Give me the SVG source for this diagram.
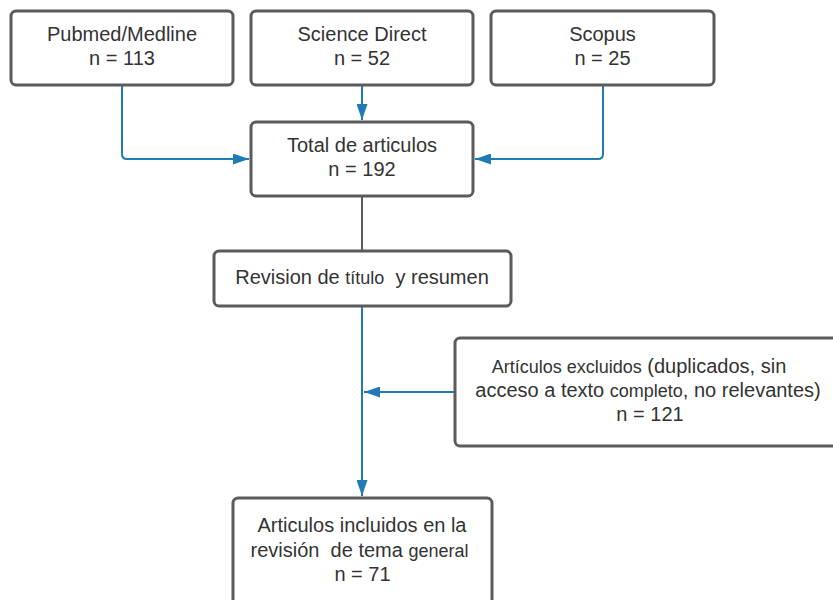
<svg xmlns="http://www.w3.org/2000/svg" width="833" height="600" viewBox="0 0 833 600">
<style>
.box{fill:#fff;stroke:#5b5b5b;stroke-width:3}
.t{font-family:"Liberation Sans",Arial,sans-serif;font-size:20px;fill:#333;text-anchor:middle;white-space:pre}
.s{font-size:18px}
.c{fill:none;stroke:#1f7ab5;stroke-width:2}
.g{fill:none;stroke:#5b5b5b;stroke-width:2}
</style>
<defs>
<marker id="ah" markerUnits="userSpaceOnUse" markerWidth="16" markerHeight="11" refX="16" refY="5.5" orient="auto">
<path d="M0,0 L16,5.5 L0,11 z" fill="#1f7ab5"/>
</marker>
</defs>
<rect width="833" height="600" fill="#fff"/>
<g id="connectors">
<path class="c" d="M122,86 V154 Q122,159 127,159 H249" marker-end="url(#ah)"/>
<path class="c" d="M362,86 V120" marker-end="url(#ah)"/>
<path class="c" d="M603,86 V154 Q603,159 598,159 H475" marker-end="url(#ah)"/>
<path class="g" d="M362,197 V251"/>
<path class="c" d="M362,307 V496" marker-end="url(#ah)"/>
<path class="c" d="M454,392 H364" marker-end="url(#ah)"/>
</g>
<g id="pubmed">
<rect class="box" x="11" y="11" width="222" height="74" rx="5"/>
<text class="t" x="122" y="40.5">Pubmed/Medline</text>
<text class="t" x="122" y="65">n = 113</text>
</g>
<g id="sciencedirect">
<rect class="box" x="251" y="11" width="222" height="74" rx="5"/>
<text class="t" x="362" y="40.5">Science Direct</text>
<text class="t" x="362" y="65">n = 52</text>
</g>
<g id="scopus">
<rect class="box" x="491" y="11" width="223" height="74" rx="5"/>
<text class="t" x="602.5" y="40.5">Scopus</text>
<text class="t" x="602.5" y="65">n = 25</text>
</g>
<g id="total">
<rect class="box" x="251" y="122" width="222" height="74" rx="5"/>
<text class="t" x="362" y="151.5">Total de articulos</text>
<text class="t" x="362" y="176">n = 192</text>
</g>
<g id="revision">
<rect class="box" x="214" y="251" width="297" height="55" rx="5"/>
<text class="t" x="362" y="284">Revision de <tspan class="s">título</tspan>  y resumen</text>
</g>
<g id="excluidos">
<rect class="box" x="455" y="338" width="390" height="108" rx="5"/>
<text class="t" x="639" y="372.5"><tspan class="s">Artículos excluidos</tspan> (duplicados, sin</text>
<text class="t" x="648" y="397">acceso a texto <tspan class="s">completo</tspan>, no relevantes)</text>
<text class="t" x="650" y="421">n = 121</text>
</g>
<g id="incluidos">
<rect class="box" x="233" y="498" width="259" height="120" rx="5"/>
<text class="t" x="362" y="531.5">Articulos incluidos en la</text>
<text class="t" x="359.5" y="556.5">revisión  de tema <tspan class="s">general</tspan></text>
<text class="t" x="362.5" y="581">n = 71</text>
</g>
</svg>
